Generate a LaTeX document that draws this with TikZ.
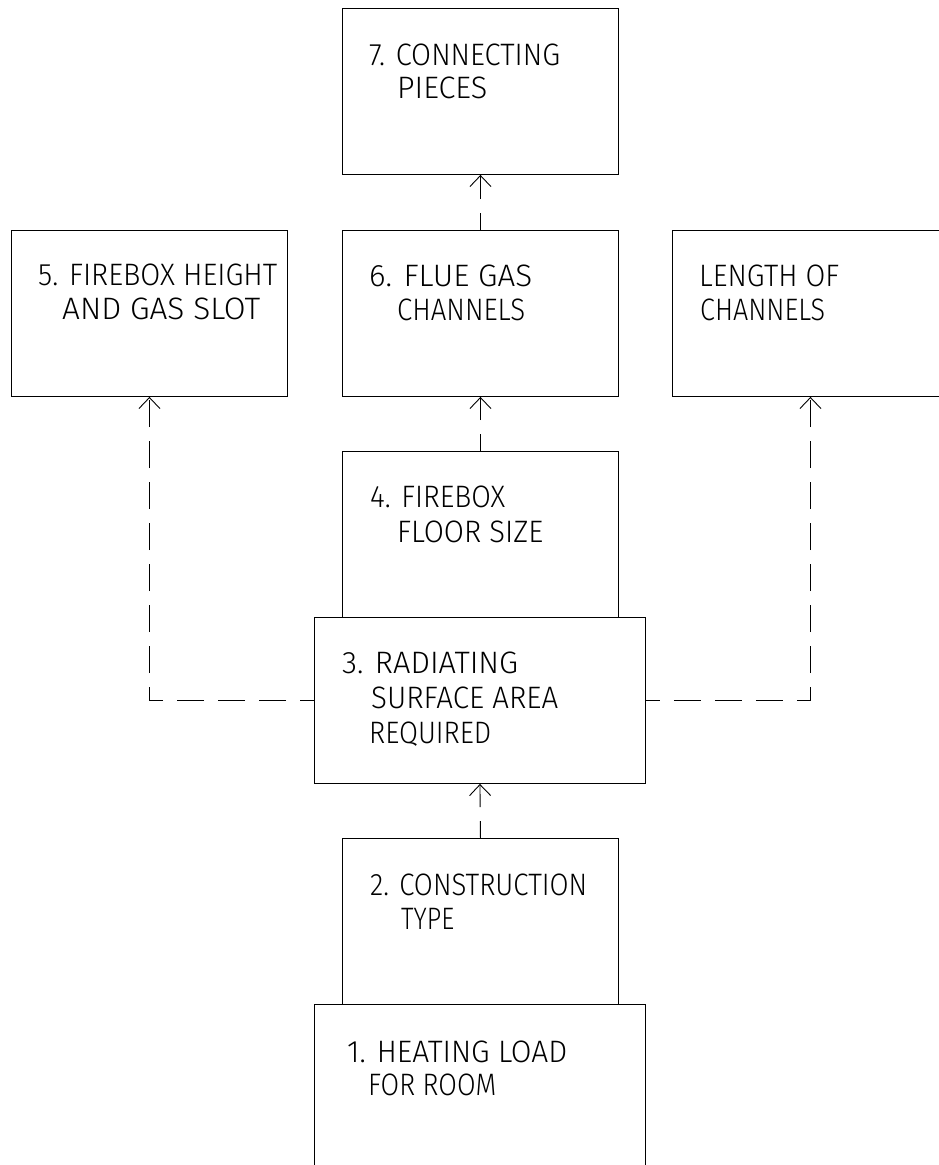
\documentclass[tikz,border=0pt]{standalone}
\usepackage{fontspec}
\usepackage{graphicx}
\setmainfont{Fira Sans Light}
\usetikzlibrary{arrows.meta}
\newcommand\fitline[2]{\resizebox{#1pt}{\height}{#2}}
\tikzset{
  box/.style={draw=black, line width=0.9pt, minimum width=276pt, minimum height=166pt, inner sep=0pt, anchor=north west},
  widebox/.style={box, minimum width=331pt},
  lbl/.style={anchor=base west, inner sep=0pt, font=\fontsize{31}{31}\selectfont},
  conn/.style={draw=black, line width=0.9pt, dash pattern=on 27pt off 14pt, dash phase=13pt, -{Straight Barb[length=11pt,width=21pt,line width=0.9pt]}},
  connv/.style={conn, dash phase=10pt}
}
\begin{document}
\begin{tikzpicture}[x=1pt,y=-1pt]
\useasboundingbox (0,0) rectangle (939,1165);
\clip (0,0) rectangle (939,1165);
\fill[white] (0,0) rectangle (939,1165);
% boxes
\node[box] (b7) at (342,8) {};
\node[box] (b5) at (11,230) {};
\node[box] (b6) at (342,230) {};
\node[box] (bL) at (672,230) {};
\node[box] (b4) at (342,451) {};
\node[widebox] (b3) at (314,617) {};
\node[box] (b2) at (342,838) {};
\node[widebox, minimum height=220pt] (b1) at (314,1004) {};
% labels
\node[lbl] (t7a) at (369,65) {\fitline{191}{7. CONNECTING}};
\node[lbl] (t7b) at (397,98) {\fitline{90}{PIECES}};
\node[lbl] (t5a) at (38,285) {\fitline{239}{5. FIREBOX HEIGHT}};
\node[lbl] (t5b) at (62,319) {\fitline{198}{AND GAS SLOT}};
\node[lbl] (t6a) at (369,286) {\fitline{163}{6. FLUE GAS}};
\node[lbl] (t6b) at (397,320) {\fitline{128}{CHANNELS}};
\node[lbl] (tLa) at (699,286) {\fitline{140}{LENGTH OF}};
\node[lbl] (tLb) at (700,320) {\fitline{125}{CHANNELS}};
\node[lbl] (t4a) at (370,507) {\fitline{135}{4. FIREBOX}};
\node[lbl] (t4b) at (397,542) {\fitline{146}{FLOOR SIZE}};
\node[lbl] (t3a) at (342,673) {\fitline{176}{3. RADIATING}};
\node[lbl] (t3b) at (371,708) {\fitline{187}{SURFACE AREA}};
\node[lbl] (t3c) at (369,743) {\fitline{122}{REQUIRED}};
\node[lbl] (t2a) at (370,895) {\fitline{217}{2. CONSTRUCTION}};
\node[lbl] (t2b) at (401,929) {\fitline{53}{TYPE}};
\node[lbl] (t1a) at (347,1062) {\fitline{220}{1. HEATING LOAD}};
\node[lbl] (t1b) at (368,1095) {\fitline{128}{FOR ROOM}};
% connectors
\draw[connv] (b2.north) -- (b3.south);
\draw[connv] (b4.north) -- (b6.south);
\draw[connv] (b6.north) -- (b7.south);
\draw[conn] (b3.west) -| (b5.south);
\draw[conn] (b3.east) -| (bL.south);
\end{tikzpicture}
\end{document}
